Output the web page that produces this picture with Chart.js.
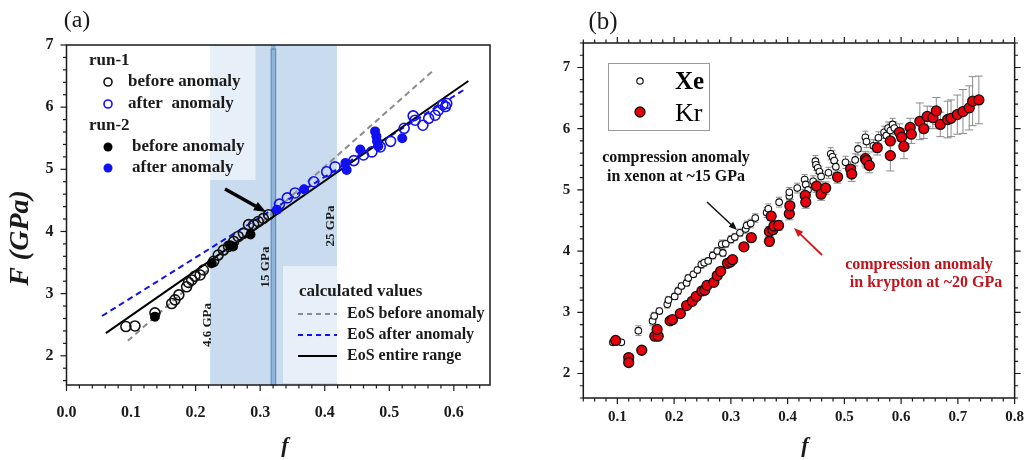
<!DOCTYPE html>
<html>
<head>
<meta charset="utf-8">
<script src="https://cdn.jsdelivr.net/npm/chart.js@4.4.1/dist/chart.umd.min.js"></script>
<style>
  body { margin: 0; background: #fff; width: 1034px; height: 460px; overflow: hidden; position: relative; }
  canvas { position: absolute; top: 0; }
  #chartA { left: 0; }
  #chartB { left: 520px; }
</style>
</head>
<body>
<canvas id="chartA" width="520" height="460"></canvas>
<canvas id="chartB" width="514" height="460"></canvas>
<script>
/* --------------- Panel (a) data --------------------- */
const run1BeforeF = [0.092, 0.106, 0.137, 0.163, 0.168, 0.174, 0.186, 0.189, 0.194, 0.199, 0.207, 0.212, 0.228, 0.235, 0.243, 0.251, 0.259, 0.266, 0.274, 0.282, 0.290, 0.297, 0.305, 0.313];
const run1BeforeY = [2.47, 2.48, 2.69, 2.84, 2.90, 2.98, 3.11, 3.18, 3.22, 3.28, 3.30, 3.38, 3.52, 3.62, 3.70, 3.76, 3.84, 3.92, 3.97, 4.11, 4.11, 4.16, 4.21, 4.27];
const run1AfterF = [0.330, 0.342, 0.354, 0.383, 0.403, 0.416, 0.445, 0.460, 0.473, 0.486, 0.502, 0.523, 0.537, 0.540, 0.552, 0.561, 0.571, 0.576, 0.583, 0.587, 0.589];
const run1AfterY = [4.44, 4.54, 4.62, 4.80, 4.96, 5.04, 5.14, 5.23, 5.28, 5.36, 5.45, 5.66, 5.86, 5.79, 5.71, 5.82, 5.87, 5.95, 6.04, 6.01, 6.06];
const run2BeforeF = [0.137, 0.225, 0.253, 0.258, 0.285];
const run2BeforeY = [2.63, 3.49, 3.78, 3.76, 3.95];
const run2AfterF = [0.326, 0.368, 0.432, 0.434, 0.455, 0.478, 0.480, 0.481, 0.483, 0.520];
const run2AfterY = [4.35, 4.68, 5.10, 4.99, 5.32, 5.61, 5.53, 5.45, 5.37, 5.50];

// EoS curves (end points)
const eosBeforeF = [0.095, 0.566];
const eosBeforeY = [2.24, 6.57];
const eosAfterF = [0.055, 0.619];
const eosAfterY = [2.64, 6.30];
const eosAllF = [0.061, 0.6225];
const eosAllY = [2.365, 6.42];

// pressure marks (f values)
const bandLow = 0.2225;   // 4.6 GPa
const bandHigh = 0.419;   // 25 GPa
const mark15 = [0.317, 0.324]; // 15 GPa

/* --------------- Panel (b) data --------------------- */
const xeF = [0.092, 0.107, 0.137, 0.162, 0.165, 0.174, 0.188, 0.190, 0.201, 0.207, 0.213, 0.222, 0.225, 0.234, 0.241, 0.248, 0.253, 0.260, 0.268, 0.276, 0.284, 0.286, 0.291, 0.300, 0.307, 0.316, 0.326, 0.328, 0.335, 0.343, 0.363, 0.366, 0.385, 0.403, 0.403, 0.417, 0.430, 0.432, 0.436, 0.445, 0.449, 0.450, 0.453, 0.456, 0.459, 0.472, 0.476, 0.479, 0.482, 0.485, 0.502, 0.519, 0.524, 0.537, 0.539, 0.551, 0.560, 0.570, 0.574, 0.577, 0.581, 0.585, 0.588];
const xeY = [2.51, 2.51, 2.70, 2.86, 2.94, 3.02, 3.13, 3.20, 3.26, 3.35, 3.43, 3.48, 3.56, 3.62, 3.69, 3.78, 3.81, 3.84, 3.93, 4.00, 4.11, 3.97, 4.12, 4.19, 4.23, 4.30, 4.36, 4.42, 4.45, 4.54, 4.63, 4.69, 4.80, 4.90, 4.96, 5.03, 5.17, 5.09, 5.00, 5.14, 5.47, 5.41, 5.36, 5.30, 5.22, 5.28, 5.59, 5.54, 5.48, 5.38, 5.45, 5.49, 5.67, 5.86, 5.79, 5.72, 5.85, 5.94, 5.89, 6.01, 5.97, 6.07, 6.01];
const xeErr = [0.04, 0.04, 0.08, 0.08, 0.06, 0.05, 0.06, 0.06, 0.05, 0.06, 0.05, 0.05, 0.06, 0.05, 0.05, 0.06, 0.06, 0.05, 0.06, 0.06, 0.07, 0.06, 0.06, 0.06, 0.06, 0.06, 0.07, 0.07, 0.07, 0.07, 0.08, 0.08, 0.08, 0.08, 0.08, 0.08, 0.08, 0.08, 0.08, 0.09, 0.09, 0.09, 0.09, 0.09, 0.09, 0.09, 0.10, 0.10, 0.10, 0.10, 0.10, 0.10, 0.10, 0.10, 0.10, 0.10, 0.10, 0.10, 0.10, 0.10, 0.10, 0.10, 0.10];
const krF = [0.097, 0.120, 0.120, 0.143, 0.166, 0.172, 0.170, 0.193, 0.197, 0.211, 0.222, 0.232, 0.239, 0.249, 0.254, 0.258, 0.270, 0.276, 0.282, 0.294, 0.299, 0.303, 0.323, 0.336, 0.368, 0.368, 0.374, 0.376, 0.384, 0.371, 0.403, 0.404, 0.431, 0.432, 0.451, 0.459, 0.467, 0.488, 0.511, 0.513, 0.537, 0.539, 0.544, 0.558, 0.581, 0.581, 0.597, 0.601, 0.605, 0.616, 0.618, 0.633, 0.640, 0.646, 0.656, 0.662, 0.669, 0.682, 0.688, 0.699, 0.709, 0.720, 0.726, 0.737];
const krY = [2.54, 2.26, 2.18, 2.38, 2.61, 2.61, 2.72, 2.86, 2.88, 2.98, 3.11, 3.18, 3.26, 3.35, 3.36, 3.44, 3.49, 3.60, 3.67, 3.80, 3.82, 3.86, 4.07, 4.22, 4.16, 4.32, 4.35, 4.41, 4.42, 4.57, 4.61, 4.74, 4.91, 4.80, 5.06, 4.93, 5.03, 5.21, 5.34, 5.26, 5.51, 5.48, 5.40, 5.69, 5.80, 5.56, 5.94, 5.86, 5.71, 6.02, 5.91, 6.12, 6.00, 6.20, 6.18, 6.29, 6.07, 6.15, 6.17, 6.23, 6.28, 6.34, 6.45, 6.47];
const krErr = [0.04, 0.05, 0.05, 0.04, 0.05, 0.05, 0.05, 0.05, 0.05, 0.05, 0.05, 0.05, 0.05, 0.05, 0.05, 0.05, 0.05, 0.05, 0.05, 0.06, 0.06, 0.06, 0.06, 0.06, 0.08, 0.08, 0.07, 0.07, 0.08, 0.07, 0.10, 0.10, 0.10, 0.10, 0.10, 0.10, 0.10, 0.10, 0.12, 0.12, 0.12, 0.12, 0.12, 0.12, 0.25, 0.25, 0.14, 0.14, 0.20, 0.15, 0.15, 0.30, 0.16, 0.17, 0.18, 0.22, 0.20, 0.30, 0.30, 0.32, 0.36, 0.36, 0.40, 0.39];

const pts = (fs, ys) => fs.map((f, i) => ({ x: f, y: ys[i] }));

const SERIF = '"Liberation Serif", "Times New Roman", serif';
const INK = '#1a1a1a';
const BLUE = '#1010f0';

/* --------------- helpers --------------------- */
function drawTicks(ctx, scale, a, minorStep, majorStep, sides) {
  const horiz = scale.isHorizontal();
  const start = Math.ceil(scale.min / minorStep - 1e-6);
  ctx.save();
  ctx.strokeStyle = INK;
  ctx.lineWidth = 1.2;
  for (let i = start; i * minorStep <= scale.max + 1e-9; i++) {
    const v = i * minorStep;
    const r = v / majorStep;
    const len = Math.abs(r - Math.round(r)) < 1e-6 ? 6 : 3.5;
    const p = scale.getPixelForValue(v);
    ctx.beginPath();
    sides.forEach(s => {
      if (horiz) {
        const y0 = s === 'bottom' ? a.bottom : a.top;
        const d = s === 'bottom' ? len : -len;
        ctx.moveTo(p, y0); ctx.lineTo(p, y0 + d);
      } else {
        const x0 = s === 'left' ? a.left : a.right;
        const d = s === 'left' ? -len : len;
        ctx.moveTo(x0, p); ctx.lineTo(x0 + d, p);
      }
    });
    ctx.stroke();
  }
  ctx.restore();
}

function arrow(ctx, x0, y0, x1, y1, w, head, color) {
  const ang = Math.atan2(y1 - y0, x1 - x0);
  ctx.save();
  ctx.strokeStyle = color; ctx.fillStyle = color; ctx.lineWidth = w;
  ctx.beginPath();
  ctx.moveTo(x0, y0);
  ctx.lineTo(x1 - Math.cos(ang) * head * 0.7, y1 - Math.sin(ang) * head * 0.7);
  ctx.stroke();
  ctx.beginPath();
  ctx.moveTo(x1, y1);
  ctx.lineTo(x1 - head * Math.cos(ang - 0.38), y1 - head * Math.sin(ang - 0.38));
  ctx.lineTo(x1 - head * Math.cos(ang + 0.38), y1 - head * Math.sin(ang + 0.38));
  ctx.closePath();
  ctx.fill();
  ctx.restore();
}

function vText(ctx, txt, x, y, font, color) {
  ctx.save();
  ctx.translate(x, y);
  ctx.rotate(-Math.PI / 2);
  ctx.font = font; ctx.fillStyle = color;
  ctx.textAlign = 'center'; ctx.textBaseline = 'middle';
  ctx.fillText(txt, 0, 0);
  ctx.restore();
}

function dot(ctx, x, y, r, fill, stroke, lw) {
  ctx.beginPath();
  ctx.arc(x, y, r, 0, Math.PI * 2);
  if (fill) { ctx.fillStyle = fill; ctx.fill(); }
  if (stroke) { ctx.strokeStyle = stroke; ctx.lineWidth = lw; ctx.stroke(); }
}

/* --------------- Panel (a) plugin --------------------- */
const panelA = {
  id: 'panelA',
  beforeDatasetsDraw(chart) {
    const { ctx, chartArea: a, scales: { x } } = chart;
    ctx.save();
    // pressure band 4.6 - 25 GPa
    const b0 = x.getPixelForValue(bandLow), b1 = x.getPixelForValue(bandHigh);
    ctx.fillStyle = '#c9dcef';
    ctx.fillRect(b0, a.top, b1 - b0, a.bottom - a.top);
    // 15 GPa mark
    const m0 = x.getPixelForValue(mark15[0]), m1 = x.getPixelForValue(mark15[1]);
    ctx.fillStyle = '#8fb4da';
    ctx.fillRect(m0, a.top, m1 - m0, a.bottom - a.top);
    ctx.strokeStyle = '#4f84bd';
    ctx.lineWidth = 1;
    ctx.strokeRect(m0, a.top + 4, m1 - m0, a.bottom - a.top - 4);
    // legend backgrounds
    ctx.fillStyle = 'rgba(255,255,255,0.55)';
    ctx.fillRect(a.left + 1, a.top + 1, 188, 134);
    ctx.fillRect(283, 266, 206, 117);
    // band labels
    const lab = 'bold 13px ' + SERIF;
    vText(ctx, '4.6 GPa', b0 - 3, 325, lab, INK);
    vText(ctx, '15 GPa', m0 - 6, 267, lab, INK);
    vText(ctx, '25 GPa', b1 - 6, 226, lab, INK);
    ctx.restore();
  },
  afterDraw(chart) {
    const { ctx, chartArea: a, scales: { x, y } } = chart;
    ctx.save();
    // frame
    ctx.strokeStyle = INK; ctx.lineWidth = 1.5;
    ctx.strokeRect(a.left, a.top, a.right - a.left, a.bottom - a.top);
    drawTicks(ctx, x, a, 0.02, 0.1, ['bottom']);
    drawTicks(ctx, y, a, 0.2, 1, ['left']);

    // panel label and axis titles
    ctx.fillStyle = INK;
    ctx.font = '24px ' + SERIF;
    ctx.textAlign = 'center'; ctx.textBaseline = 'middle';
    ctx.fillText('(a)', 77, 21);
    ctx.font = 'italic bold 22px ' + SERIF;
    ctx.fillText('f', 285, 446);
    vText(ctx, 'F (GPa)', 21, 238, 'italic bold 28px ' + SERIF, INK);

    // arrow to the anomaly
    arrow(ctx, 225, 189, 266, 212, 3.5, 13, '#000');

    // upper legend
    ctx.textAlign = 'left';
    ctx.font = 'bold 17px ' + SERIF;
    ctx.fillStyle = INK;
    ctx.fillText('run-1', 89, 61);
    ctx.fillText('before anomaly', 128, 82);
    ctx.fillText('after  anomaly', 128, 104);
    ctx.fillText('run-2', 89, 126);
    ctx.fillText('before anomaly', 132, 147);
    ctx.fillText('after anomaly', 132, 168);
    dot(ctx, 108, 82, 4, null, '#111', 1.6);
    dot(ctx, 108, 104, 4, null, BLUE, 1.6);
    dot(ctx, 108, 147, 4.5, '#000', null, 0);
    dot(ctx, 108, 168, 4.5, BLUE, null, 0);

    // lower legend
    ctx.fillStyle = INK;
    ctx.fillText('calculated values', 299, 292);
    ctx.font = 'bold 16px ' + SERIF;
    ctx.fillText('EoS before anomaly', 347, 314);
    ctx.fillText('EoS after anomaly', 347, 335);
    ctx.fillText('EoS entire range', 347, 356);
    ctx.lineWidth = 2;
    ctx.setLineDash([5, 4]);
    ctx.strokeStyle = '#8c8c8c';
    ctx.beginPath(); ctx.moveTo(298, 314); ctx.lineTo(337, 314); ctx.stroke();
    ctx.strokeStyle = BLUE;
    ctx.beginPath(); ctx.moveTo(298, 335); ctx.lineTo(337, 335); ctx.stroke();
    ctx.setLineDash([]);
    ctx.strokeStyle = '#000';
    ctx.beginPath(); ctx.moveTo(298, 356); ctx.lineTo(337, 356); ctx.stroke();
    ctx.restore();
  }
};

const tickFontA = { family: SERIF, weight: 'bold', size: 16 };

new Chart(document.getElementById('chartA'), {
  type: 'scatter',
  plugins: [panelA],
  data: {
    datasets: [
      { data: pts(run2AfterF, run2AfterY), pointRadius: 5, backgroundColor: BLUE, borderColor: BLUE, borderWidth: 0 },
      { data: pts(run2BeforeF, run2BeforeY), pointRadius: 5, backgroundColor: '#000', borderColor: '#000', borderWidth: 0 },
      { data: pts(run1AfterF, run1AfterY), pointRadius: 5, backgroundColor: 'rgba(0,0,0,0)', borderColor: BLUE, borderWidth: 1.6 },
      { data: pts(run1BeforeF, run1BeforeY), pointRadius: 5, backgroundColor: 'rgba(0,0,0,0)', borderColor: '#111', borderWidth: 1.6 },
      { type: 'line', data: pts(eosAllF, eosAllY), borderColor: '#000', borderWidth: 2, pointRadius: 0 },
      { type: 'line', data: pts(eosAfterF, eosAfterY), borderColor: BLUE, borderWidth: 2, borderDash: [6, 4], pointRadius: 0 },
      { type: 'line', data: pts(eosBeforeF, eosBeforeY), borderColor: '#8c8c8c', borderWidth: 2, borderDash: [6, 4], pointRadius: 0 }
    ]
  },
  options: {
    responsive: false,
    animation: false,
    layout: { padding: { top: 45, right: 30, left: 0, bottom: 0 } },
    plugins: { legend: { display: false }, tooltip: { enabled: false } },
    scales: {
      x: {
        type: 'linear', min: 0, max: 0.656,
        grid: { display: false, drawTicks: false },
        border: { display: false },
        ticks: { stepSize: 0.1, includeBounds: false, autoSkip: false, maxRotation: 0, padding: 18,
          color: INK, font: tickFontA, callback: v => v.toFixed(1) },
        afterFit: s => { s.height = 75; }
      },
      y: {
        type: 'linear', min: 1.53, max: 7,
        grid: { display: false, drawTicks: false },
        border: { display: false },
        ticks: { stepSize: 1, includeBounds: false, padding: 13, color: INK, font: tickFontA },
        afterFit: s => { s.width = 66.5; }
      }
    }
  }
});

/* --------------- Panel (b) plugin --------------------- */
const panelB = {
  id: 'panelB',
  beforeDatasetsDraw(chart) {
    const { ctx, scales: { x, y } } = chart;
    ctx.save();
    ctx.strokeStyle = '#8a8a8a';
    ctx.lineWidth = 1;
    [[xeF, xeY, xeErr, 3], [krF, krY, krErr, 4]].forEach(([fs, vs, es, cap]) => {
      fs.forEach((f, i) => {
        const px = x.getPixelForValue(f);
        const t = y.getPixelForValue(vs[i] + es[i]);
        const b = y.getPixelForValue(vs[i] - es[i]);
        ctx.beginPath();
        ctx.moveTo(px, t); ctx.lineTo(px, b);
        ctx.moveTo(px - cap, t); ctx.lineTo(px + cap, t);
        ctx.moveTo(px - cap, b); ctx.lineTo(px + cap, b);
        ctx.stroke();
      });
    });
    ctx.restore();
  },
  afterDraw(chart) {
    const { ctx, chartArea: a, scales: { x, y } } = chart;
    ctx.save();
    ctx.strokeStyle = INK; ctx.lineWidth = 1.5;
    ctx.strokeRect(a.left, a.top, a.right - a.left, a.bottom - a.top);
    drawTicks(ctx, x, a, 0.02, 0.1, ['bottom', 'top']);
    drawTicks(ctx, y, a, 0.2, 1, ['left', 'right']);

    ctx.fillStyle = INK;
    ctx.textAlign = 'center'; ctx.textBaseline = 'middle';
    ctx.font = '25px ' + SERIF;
    ctx.fillText('(b)', 83, 22);
    ctx.font = 'italic bold 22px ' + SERIF;
    ctx.fillText('f', 285, 446);

    // legend
    ctx.fillStyle = '#fff';
    ctx.fillRect(88, 63, 101, 67);
    ctx.strokeStyle = '#9a9a9a'; ctx.lineWidth = 1;
    ctx.strokeRect(88.5, 63.5, 101, 67);
    dot(ctx, 120, 81, 3.2, '#fff', '#111', 1.2);
    dot(ctx, 120, 112, 5, '#e8000b', '#111', 1.3);
    ctx.textAlign = 'left';
    ctx.fillStyle = '#000';
    ctx.font = 'bold 25px ' + SERIF;
    ctx.fillText('Xe', 155, 83);
    ctx.font = '26px ' + SERIF;
    ctx.fillText('Kr', 155, 114);

    // annotations
    ctx.textAlign = 'center';
    ctx.font = 'bold 16px ' + SERIF;
    ctx.fillStyle = '#111';
    ctx.fillText('compression anomaly', 156, 158);
    ctx.fillText('in xenon at ~15 GPa', 156, 177);
    ctx.fillStyle = '#c0141c';
    ctx.fillText('compression anomaly', 399, 265);
    ctx.fillText('in krypton at ~20 GPa', 406, 283);
    arrow(ctx, 187, 202, 217, 230, 1.5, 9, '#111');
    arrow(ctx, 302, 255, 274, 228, 1.8, 10, '#d01a1a');
    ctx.restore();
  }
};

const tickFontB = { family: SERIF, weight: 'bold', size: 15 };

new Chart(document.getElementById('chartB'), {
  type: 'scatter',
  plugins: [panelB],
  data: {
    datasets: [
      { data: pts(krF, krY), pointRadius: 5, backgroundColor: '#e8000b', borderColor: '#111', borderWidth: 1.3 },
      { data: pts(xeF, xeY), pointRadius: 3.3, backgroundColor: '#fff', borderColor: '#111', borderWidth: 1.1 }
    ]
  },
  options: {
    responsive: false,
    animation: false,
    layout: { padding: { top: 43, right: 11.7, left: 0, bottom: 0 } },
    plugins: { legend: { display: false }, tooltip: { enabled: false } },
    scales: {
      x: {
        type: 'linear', min: 0.04, max: 0.8,
        grid: { display: false, drawTicks: false },
        border: { display: false },
        ticks: { stepSize: 0.1, includeBounds: false, autoSkip: false, maxRotation: 0, padding: 10,
          color: INK, font: tickFontB, callback: v => v.toFixed(1) },
        afterFit: s => { s.height = 62; }
      },
      y: {
        type: 'linear', min: 1.6, max: 7.4,
        grid: { display: false, drawTicks: false },
        border: { display: false },
        ticks: { stepSize: 1, includeBounds: false, padding: 13, color: INK, font: tickFontB },
        afterFit: s => { s.width = 63.3; }
      }
    }
  }
});
</script>
</body>
</html>
